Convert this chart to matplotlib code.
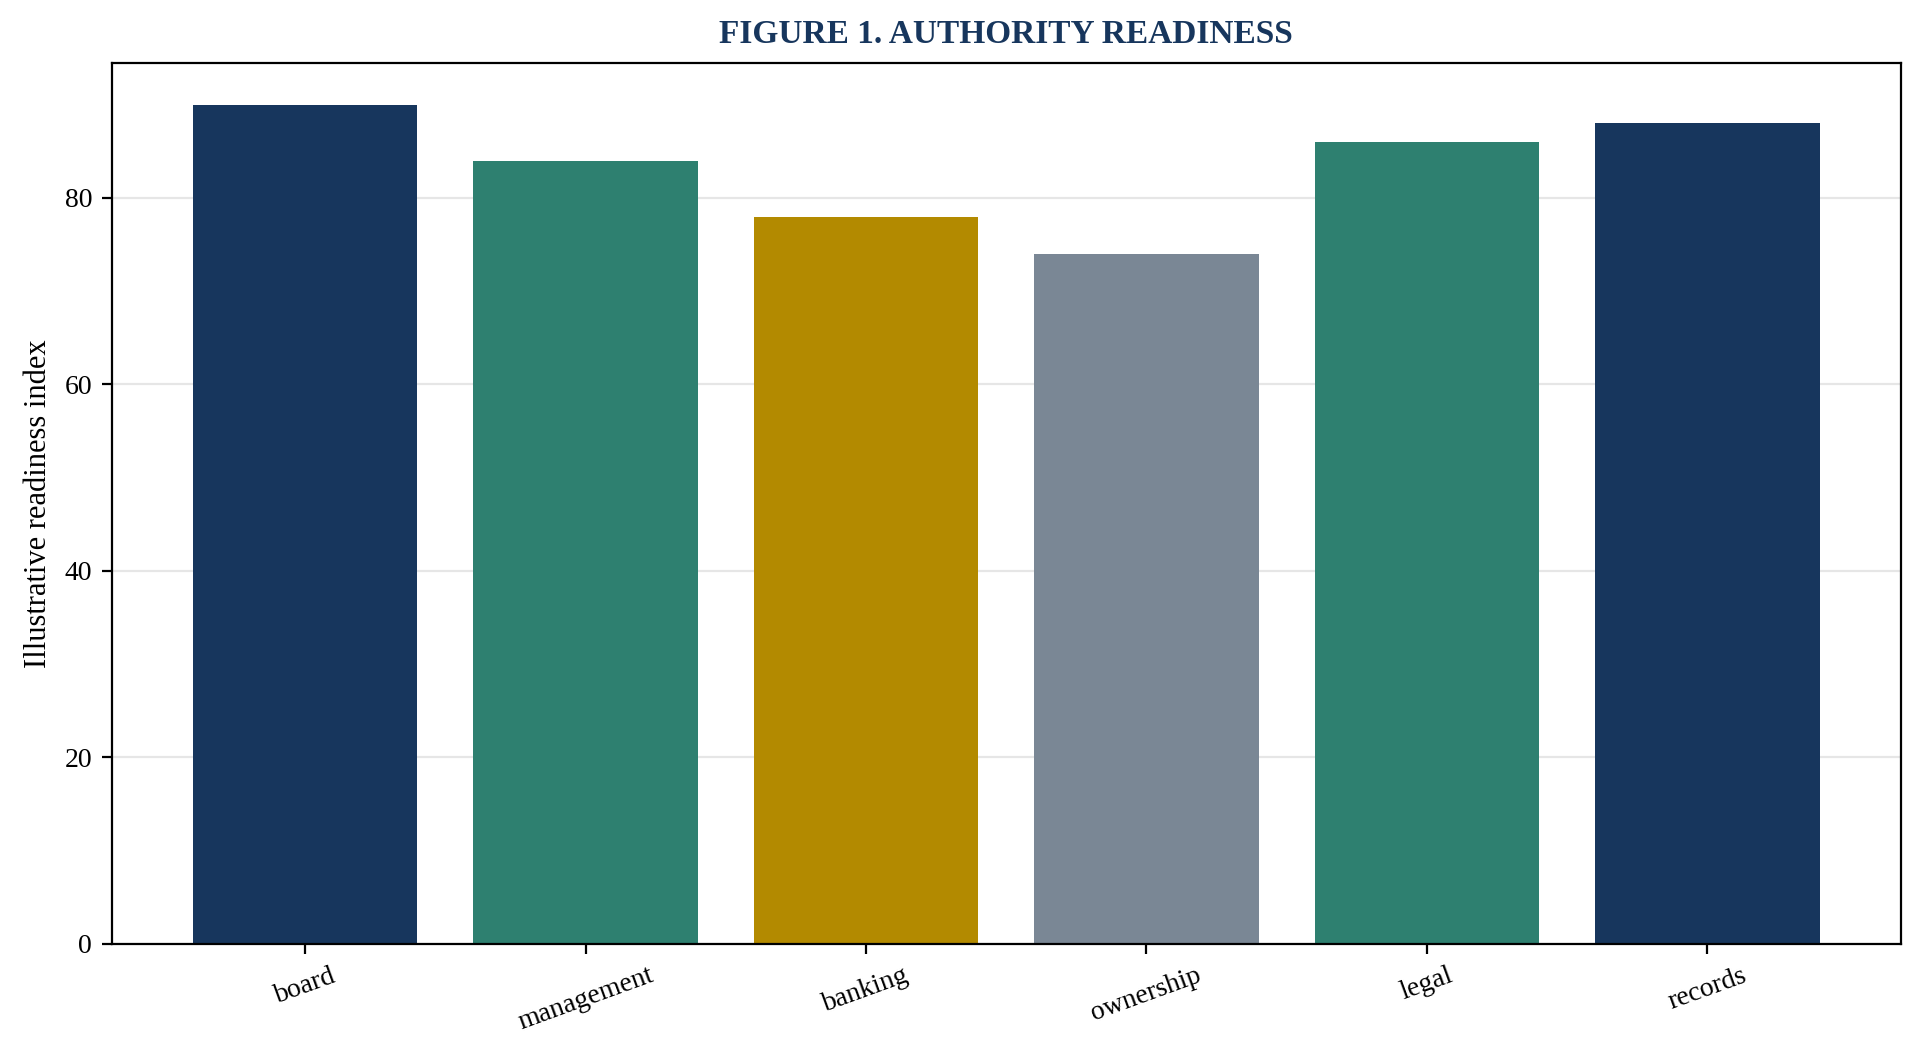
import matplotlib
matplotlib.use("Agg")
import matplotlib.pyplot as plt

categories = ["board", "management", "banking", "ownership", "legal", "records"]
values = [90, 84, 78, 74, 86, 88]
colors = ["#17365d", "#2e8070", "#b38a00", "#7a8795", "#2e8070", "#17365d"]

plt.rcParams['font.family'] = ['Liberation Serif', 'DejaVu Serif']
fig = plt.figure(figsize=(9.62, 5.32), dpi=200)
ax = fig.add_axes([0.058, 0.113, 0.93, 0.828])
x = list(range(len(categories)))
ax.bar(x, values, width=0.8, color=colors, zorder=2)
ax.set_xlim(-0.69, 5.69)
ax.set_ylim(0, 94.5)
ax.set_yticks([0, 20, 40, 60, 80])
ax.set_xticks(x)
ax.set_xticklabels(categories, rotation=20)
ax.grid(axis='y', color='#e6e6e6', linewidth=0.8, zorder=0)
ax.set_axisbelow(True)
ax.tick_params(labelsize=10)
ax.set_ylabel("Illustrative readiness index", fontsize=11)
ax.set_title("FIGURE 1. AUTHORITY READINESS", fontsize=12, fontweight='bold', color='#17365d', pad=7)
fig.savefig("out.png", dpi=200)
